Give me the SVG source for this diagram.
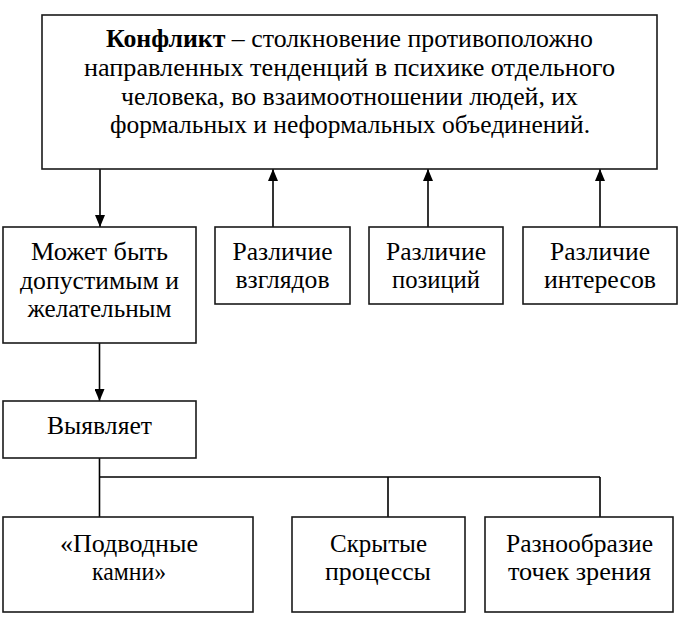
<svg xmlns="http://www.w3.org/2000/svg" width="683" height="617" viewBox="0 0 683 617">
<defs>
<marker id="ah" viewBox="0 0 12 10" refX="12" refY="5" markerWidth="12" markerHeight="10" markerUnits="userSpaceOnUse" orient="auto">
<path d="M0,0 L12,5 L0,10 z" fill="#000"/>
</marker>
</defs>
<rect width="683" height="617" fill="#fff"/>
<g id="connectors" fill="none" stroke="#000" stroke-width="1.6">
<line x1="100" y1="169" x2="100" y2="227" marker-end="url(#ah)"/>
<line x1="273" y1="227" x2="273" y2="169" marker-end="url(#ah)"/>
<line x1="428" y1="227" x2="428" y2="169" marker-end="url(#ah)"/>
<line x1="600" y1="227" x2="600" y2="169" marker-end="url(#ah)"/>
<line x1="99.5" y1="343" x2="99.5" y2="401" marker-end="url(#ah)"/>
<path d="M99.5,458 V517 M99.5,477 H600 M388,477 V517 M600,477 V517"/>
</g>
<g id="conflict">
<rect x="42" y="15" width="615" height="154" fill="#fff" stroke="#1a1a1a" stroke-width="1.6"/>
<text x="106" y="47" font-family="Liberation Serif" font-size="26" textLength="487" lengthAdjust="spacingAndGlyphs"><tspan font-weight="bold">Конфликт</tspan> – столкновение противоположно</text>
<text x="84" y="76" font-family="Liberation Serif" font-size="26" textLength="531" lengthAdjust="spacingAndGlyphs">направленных тенденций в психике отдельного</text>
<text x="121" y="104.5" font-family="Liberation Serif" font-size="26" textLength="457" lengthAdjust="spacingAndGlyphs">человека, во взаимоотношении людей, их</text>
<text x="110" y="133" font-family="Liberation Serif" font-size="26" textLength="480" lengthAdjust="spacingAndGlyphs">формальных и неформальных объединений.</text>
</g>
<g id="dopustimym">
<rect x="3" y="227" width="193" height="116" fill="#fff" stroke="#1a1a1a" stroke-width="1.6"/>
<text x="31" y="260" font-family="Liberation Serif" font-size="26" textLength="137" lengthAdjust="spacingAndGlyphs">Может быть</text>
<text x="20" y="288.5" font-family="Liberation Serif" font-size="26" textLength="159" lengthAdjust="spacingAndGlyphs">допустимым и</text>
<text x="27.5" y="317" font-family="Liberation Serif" font-size="26" textLength="144" lengthAdjust="spacingAndGlyphs">желательным</text>
</g>
<g id="vzglyadov">
<rect x="215" y="227" width="135" height="77" fill="#fff" stroke="#1a1a1a" stroke-width="1.6"/>
<text x="232.5" y="260" font-family="Liberation Serif" font-size="26" textLength="100" lengthAdjust="spacingAndGlyphs">Различие</text>
<text x="235.5" y="288" font-family="Liberation Serif" font-size="26" textLength="94" lengthAdjust="spacingAndGlyphs">взглядов</text>
</g>
<g id="pozitsiy">
<rect x="369" y="227" width="134" height="77" fill="#fff" stroke="#1a1a1a" stroke-width="1.6"/>
<text x="386" y="260" font-family="Liberation Serif" font-size="26" textLength="100" lengthAdjust="spacingAndGlyphs">Различие</text>
<text x="392" y="288" font-family="Liberation Serif" font-size="26" textLength="88" lengthAdjust="spacingAndGlyphs">позиций</text>
</g>
<g id="interesov">
<rect x="523" y="227" width="154" height="77" fill="#fff" stroke="#1a1a1a" stroke-width="1.6"/>
<text x="550" y="260" font-family="Liberation Serif" font-size="26" textLength="100" lengthAdjust="spacingAndGlyphs">Различие</text>
<text x="544" y="288" font-family="Liberation Serif" font-size="26" textLength="112" lengthAdjust="spacingAndGlyphs">интересов</text>
</g>
<g id="vyyavlyaet">
<rect x="3" y="401" width="193" height="57" fill="#fff" stroke="#1a1a1a" stroke-width="1.6"/>
<text x="47" y="434" font-family="Liberation Serif" font-size="26" textLength="105" lengthAdjust="spacingAndGlyphs">Выявляет</text>
</g>
<g id="kamni">
<rect x="3" y="517" width="250" height="95" fill="#fff" stroke="#1a1a1a" stroke-width="1.6"/>
<text x="60" y="552" font-family="Liberation Serif" font-size="26" textLength="138" lengthAdjust="spacingAndGlyphs">«Подводные</text>
<text x="92" y="580" font-family="Liberation Serif" font-size="26" textLength="74" lengthAdjust="spacingAndGlyphs">камни»</text>
</g>
<g id="protsessy">
<rect x="292" y="517" width="173" height="95" fill="#fff" stroke="#1a1a1a" stroke-width="1.6"/>
<text x="330" y="552" font-family="Liberation Serif" font-size="26" textLength="97" lengthAdjust="spacingAndGlyphs">Скрытые</text>
<text x="325" y="580" font-family="Liberation Serif" font-size="26" textLength="106" lengthAdjust="spacingAndGlyphs">процессы</text>
</g>
<g id="raznoobrazie">
<rect x="485" y="517" width="188" height="95" fill="#fff" stroke="#1a1a1a" stroke-width="1.6"/>
<text x="506" y="552" font-family="Liberation Serif" font-size="26" textLength="147" lengthAdjust="spacingAndGlyphs">Разнообразие</text>
<text x="508" y="580" font-family="Liberation Serif" font-size="26" textLength="143" lengthAdjust="spacingAndGlyphs">точек зрения</text>
</g>
</svg>
